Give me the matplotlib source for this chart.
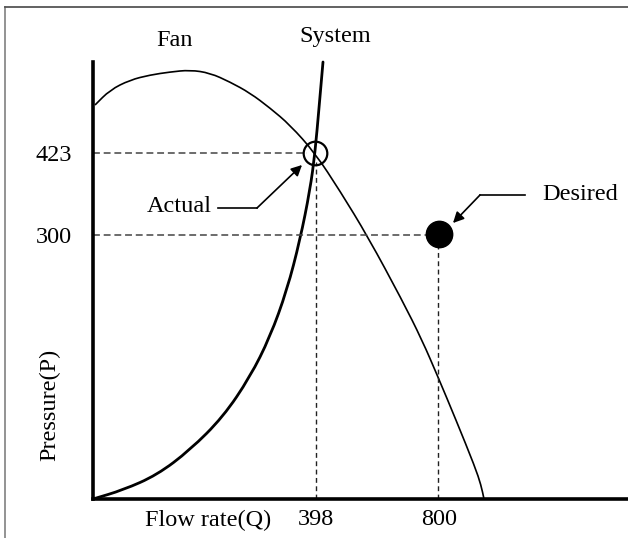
import matplotlib
matplotlib.use("Agg")
import matplotlib.pyplot as plt
from matplotlib.lines import Line2D
from matplotlib.path import Path
from matplotlib.patches import PathPatch

# ---- schematic data (arbitrary drawing units; the chart is a sketch) ----
fan_q = [2, 17, 37, 57, 77, 97, 117, 137, 157, 177, 197, 222, 247, 275, 309, 329, 345, 363, 382, 388, 391]
fan_p = [394, 409, 419, 424, 427, 429, 426, 417, 406, 391, 374, 346, 308, 262, 199, 159, 122, 79, 32, 14, 0]

sys_q = [0, 30, 64, 97, 130, 157, 177, 194, 207, 217, 222, 226, 230]
sys_p = [0, 9, 24, 49, 82, 122, 162, 209, 259, 309, 346, 391, 437]

actual_q, actual_p = 223, 346     # operating point (398, 423)
desired_q, desired_p = 346, 264   # desired point (800, 300)

x_tick_pos = [actual_q, desired_q]
x_tick_labels = ["398", "800"]
y_tick_pos = [actual_p, desired_p]
y_tick_labels = ["423", "300"]


def smooth_path(xs, ys):
    """Quadratic B-spline style path through the read points (drawn by matplotlib's Path)."""
    pts = list(zip(xs, ys))
    verts = [pts[0]]
    codes = [Path.MOVETO]
    mid = lambda a, b: ((a[0] + b[0]) / 2, (a[1] + b[1]) / 2)
    verts.append(mid(pts[0], pts[1]))
    codes.append(Path.LINETO)
    for i in range(1, len(pts) - 1):
        verts += [pts[i], mid(pts[i], pts[i + 1])]
        codes += [Path.CURVE3, Path.CURVE3]
    verts.append(pts[-1])
    codes.append(Path.LINETO)
    return Path(verts, codes)


W, H = 628, 538
fig = plt.figure(figsize=(W / 100, H / 100), dpi=100)
plt.rcParams['font.family'] = ['Liberation Serif', 'DejaVu Serif']

x0, y0, x1, y1 = 93, 499, 628, 62
ax = fig.add_axes([x0 / W, (H - y0) / H, (x1 - x0) / W, (y0 - y1) / H])
ax.set_xlim(0, x1 - x0)
ax.set_ylim(0, y0 - y1)
ax.patch.set_alpha(0)
for s in ['top', 'right']:
    ax.spines[s].set_visible(False)
for s in ['left', 'bottom']:
    ax.spines[s].set_linewidth(2.6)
    ax.spines[s].set_color('black')
    ax.spines[s].set_capstyle('projecting')

fs = 17.5
ax.set_xticks(x_tick_pos)
ax.set_xticklabels(x_tick_labels, fontsize=fs)
ax.set_yticks(y_tick_pos)
ax.set_yticklabels(y_tick_labels, fontsize=fs)
ax.tick_params(axis='x', length=0, pad=7)
ax.tick_params(axis='y', length=0, pad=15)

# curves
ax.add_patch(PathPatch(smooth_path(fan_q, fan_p), facecolor='none', edgecolor='black',
                       lw=1.2, clip_on=False))
ax.add_patch(PathPatch(smooth_path(sys_q, sys_p), facecolor='none', edgecolor='black',
                       lw=2.0, capstyle='round', clip_on=False))

# dashed guide lines
dash_c = '#444444'
r_open = 9
r_fill = 10
ax.plot([0, actual_q - r_open], [actual_p, actual_p], color=dash_c, lw=1.1, dashes=(4.5, 2.5))
ax.plot([actual_q, actual_q], [0, actual_p - r_open], color='#222222', lw=1.0, dashes=(3.5, 2.5))
ax.plot([0, desired_q - r_fill], [desired_p, desired_p], color=dash_c, lw=1.1, dashes=(4.5, 2.5))
ax.plot([desired_q - 1, desired_q - 1], [0, desired_p - r_fill], color='#222222', lw=1.0, dashes=(3.5, 2.5))

# markers
ax.plot([actual_q - 1], [actual_p], marker='o', markersize=17, markerfacecolor='none',
        markeredgecolor='black', markeredgewidth=1.6, clip_on=False)
ax.plot([desired_q], [desired_p + 1], marker='o', markersize=19, markerfacecolor='black',
        markeredgecolor='black', clip_on=False)

# annotations
ax.text(119, 293, "Actual", fontsize=fs, ha='right', va='center')
ax.plot([125, 164], [291, 291], color='black', lw=1.2)
ax.annotate("", xy=(209, 334), xytext=(164, 291),
            arrowprops=dict(arrowstyle='-|>', color='black', lw=1.2,
                            mutation_scale=16, shrinkA=0, shrinkB=0))

ax.text(449, 304, "Desired", fontsize=fs, ha='left', va='center')
ax.plot([432, 387], [304, 304], color='black', lw=1.2)
ax.annotate("", xy=(360, 276), xytext=(387, 304),
            arrowprops=dict(arrowstyle='-|>', color='black', lw=1.2,
                            mutation_scale=16, shrinkA=0, shrinkB=0))

# curve names and axis names
ax.text(82, 453, "Fan", fontsize=fs, ha='center', va='baseline', clip_on=False)
ax.text(242, 457, "System", fontsize=fs, ha='center', va='baseline', clip_on=False)
ax.text(115, -21, "Flow rate(Q)", fontsize=fs, ha='center', va='center', clip_on=False)
ax.text(-43, 94, "Pressure(P)", fontsize=fs, ha='center', va='center', rotation=90, clip_on=False)

# outer grey frame (top and left only visible)
fig.add_artist(Line2D([5 / W, 5 / W], [0, 1 - 7 / H], transform=fig.transFigure,
                      color='#8a8a8a', lw=1.3))
fig.add_artist(Line2D([5 / W, 1], [1 - 7 / H, 1 - 7 / H], transform=fig.transFigure,
                      color='#555555', lw=1.3))

fig.savefig("out.png", dpi=100, facecolor='white')
